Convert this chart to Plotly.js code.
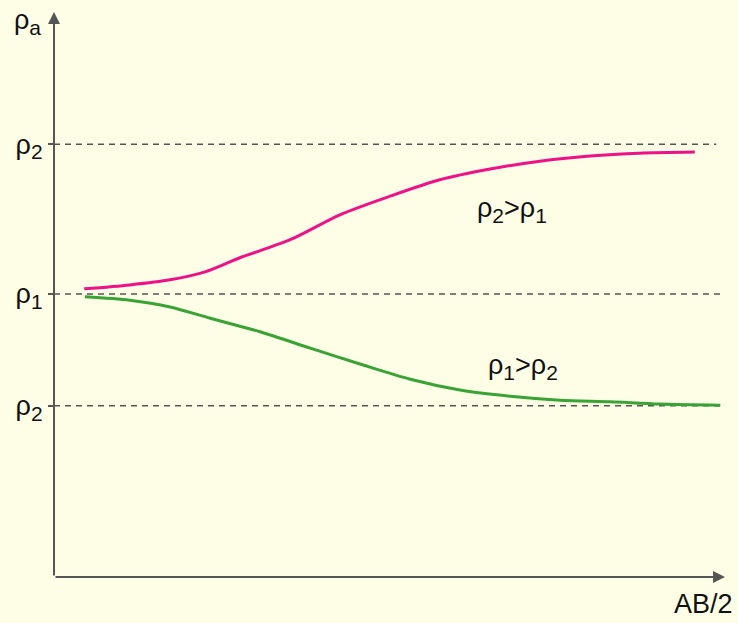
<!DOCTYPE html>
<html><head><meta charset="utf-8">
<script src="https://cdn.plot.ly/plotly-3.0.1.min.js"></script>
<style>html,body{margin:0;padding:0;background:#FEFEE6}</style>
</head><body><div id="chart" style="width:738px;height:623px"></div>
<script>
// Relative units: AB/2 (0-100), apparent resistivity (0-100)
const S = d => '<sub><span style="font-size:21px">' + d + '</span></sub>';
const levelNames = ['ρ' + S('2'), 'ρ' + S('1'), 'ρ' + S('2')];
const levelValues = [76.6, 50.1, 30.3];
const levelEnds = [98.7, 99.3, 99.3];

const pinkX = [4.5, 11.3, 17.3, 22.5, 27.7, 35.2, 42.6, 50.1, 57.5, 65.0, 72.4, 79.9, 87.3, 95.5];
const pinkY = [51.0, 51.7, 52.6, 54.0, 56.5, 59.7, 64.1, 67.4, 70.3, 72.2, 73.6, 74.5, 75.0, 75.2];
const greenX = [4.6, 11.3, 17.3, 23.3, 30.7, 38.2, 45.6, 53.1, 60.5, 68.0, 75.4, 82.9, 90.3, 99.3];
const greenY = [49.6, 49.0, 47.8, 45.8, 43.4, 40.5, 37.7, 35.0, 33.1, 32.0, 31.3, 31.0, 30.6, 30.4];

const traces = [];
levelValues.forEach((v, i) => {
  traces.push({x: [0, levelEnds[i]], y: [v, v], mode: 'lines', hoverinfo: 'skip',
    line: {color: '#555', width: 1.5, dash: '6px,5px'}});
});
traces.push({x: pinkX, y: pinkY, mode: 'lines', line: {color: '#EE1188', width: 3, shape: 'spline', smoothing: 0.8}});
traces.push({x: greenX, y: greenY, mode: 'lines', line: {color: '#3AA335', width: 3, shape: 'spline', smoothing: 0.8}});

const font = {family: 'Liberation Sans, Arial, sans-serif', size: 27, color: '#111'};
const pw = 738 - 54 - 13, ph = 623 - 12 - 46;
const px = p => (p - 54) / pw, py = p => (577 - p) / ph;
const txt = (x, y, text) => ({x: px(x), y: py(y), xref: 'paper', yref: 'paper', text: text,
  showarrow: false, font: font, xanchor: 'center', yanchor: 'middle'});
const layout = {
  width: 738, height: 623, showlegend: false,
  paper_bgcolor: '#FEFEE6', plot_bgcolor: '#FEFEE6',
  margin: {l: 54, r: 13, t: 12, b: 46},
  xaxis: {range: [0, 100], showgrid: false, zeroline: false, showline: false, showticklabels: false, ticks: ''},
  yaxis: {range: [0, 100], showgrid: false, zeroline: false, showline: false,
    tickvals: levelValues, ticktext: levelNames, ticks: 'outside', ticklen: 5, tickwidth: 1.5,
    tickcolor: '#555', tickfont: font, ticklabelstandoff: 0},
  annotations: [
    {x: 0, y: 100, ax: 0, ay: 0, xref: 'x', yref: 'y', axref: 'x', ayref: 'y', text: '',
     showarrow: true, arrowhead: 2, arrowsize: 1.2, arrowwidth: 2, arrowcolor: '#555'},
    {x: 100, y: 0, ax: 0, ay: 0, xref: 'x', yref: 'y', axref: 'x', ayref: 'y', text: '',
     showarrow: true, arrowhead: 2, arrowsize: 1.2, arrowwidth: 2, arrowcolor: '#555'},
    txt(27, 22, 'ρ' + S('a')),
    txt(703, 604, 'AB/2'),
    txt(512, 210, 'ρ' + S('2') + '>ρ' + S('1')),
    txt(523, 367, 'ρ' + S('1') + '>ρ' + S('2'))
  ]
};
Plotly.newPlot('chart', traces, layout, {displayModeBar: false});
</script></body></html>
